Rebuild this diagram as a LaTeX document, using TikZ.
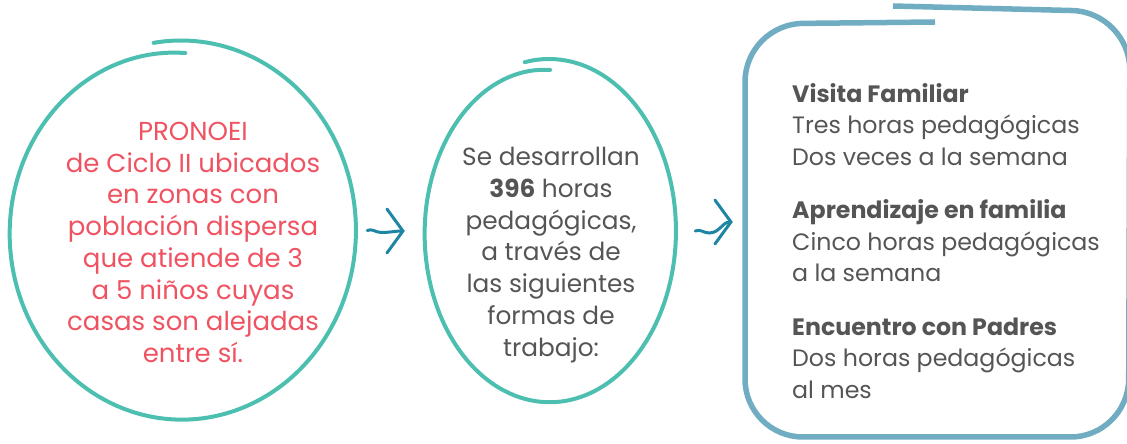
\documentclass[tikz,border=0pt]{standalone}
\usepackage{fontspec}
\setmainfont{Poppins}
\usetikzlibrary{positioning,calc,arrows.meta,shapes.geometric}

\definecolor{ringteal}{HTML}{4DBFB1}
\definecolor{pinkred}{HTML}{EF5361}
\definecolor{inkgray}{HTML}{555555}
\definecolor{wavblue}{HTML}{1E86A3}
\definecolor{boxblue}{HTML}{71ADC2}

\tikzset{
  ringnode/.style={ellipse, draw=none, inner sep=0pt},
  handring/.style={draw=ringteal, line width=4pt, line cap=round},
  redtext/.style={text=pinkred, align=center, inner sep=0pt, font=\fontsize{26}{31.7}\selectfont},
  graytext/.style={text=inkgray, align=center, inner sep=0pt, font=\fontsize{24.8}{31.7}\selectfont},
  listtext/.style={text=inkgray, align=left, inner sep=0pt, anchor=north west, font=\fontsize{23.7}{31.5}\selectfont},
  wave/.style={draw=wavblue, line width=3pt, line cap=round,
    -{Straight Barb[length=16pt, width=44pt, line cap=round]}},
  boxline/.style={draw=boxblue, line width=5.5pt, rounded corners=58pt},
}

\begin{document}
\begin{tikzpicture}[x=1pt, y=1pt]
\useasboundingbox (0,0) rectangle (1127,444);

%Nodes
\node[ringnode, minimum width=350pt, minimum height=380pt] (pronoei) at (181,213.5) {};
\node[ringnode, minimum width=254pt, minimum height=344pt] (horas)   at (549,213)   {};
\node[draw=none, minimum width=384pt, minimum height=418pt, inner sep=0pt] (formas) at (937,222) {};

\node[redtext] (pronoeitxt) at ([shift={(12,-12)}]pronoei.center)
  {PRONOEI\\ de Ciclo II ubicados\\ en zonas con\\ población dispersa\\ que atiende de 3\\ a 5 niños cuyas\\ casas son alejadas\\ entre sí.};
\node[graytext] (horastxt) at ([shift={(2,-24)}]horas.center)
  {Se desarrollan\\ \textbf{396} horas\\ pedagógicas,\\ a través de\\ las siguientes\\ formas de\\ trabajo:};
\node[listtext] (formastxt) at (792,361)
  {\textbf{Visita Familiar}\\ Tres horas pedagógicas\\ Dos veces a la semana\\[22pt]
   \textbf{Aprendizaje en familia}\\ Cinco horas pedagógicas\\ a la semana\\[22pt]
   \textbf{Encuentro con Padres}\\ Dos horas pedagógicas\\ al mes};

%Rings
\draw[handring, shift={(pronoei.center)}] plot[domain=0:1, samples=120, smooth, variable=\t]
  ({175*(1-0.066*\t^4)*cos(99-371*\t)}, {190*(1-0.066*\t^4)*sin(99-371*\t)});
\draw[handring, shift={(horas.center)}] plot[domain=0:1, samples=120, smooth, variable=\t]
  ({127*(1-0.064*\t^4)*cos(101-372*\t)}, {172*(1-0.064*\t^4)*sin(101-372*\t)});
\draw[boxline] (893,438) -- (1130,432) -- (1128.5,7) -- (745,7) -- (745,420) -- (935,422);

%Arrows
\draw[wave] ([xshift=11pt]pronoei.east) to[out=25,in=180] ++(14,-2) to[out=0,in=180] ([xshift=-17pt]horas.west);
\draw[wave] ([xshift=19pt]horas.east) to[out=25,in=180] ++(14,-2) to[out=0,in=180] ([xshift=-12pt]formas.west);
\end{tikzpicture}
\end{document}
